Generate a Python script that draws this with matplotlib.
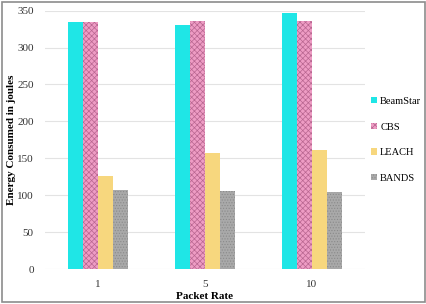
import numpy as np
import matplotlib
matplotlib.use("Agg")
import matplotlib.pyplot as plt
from matplotlib.patches import Rectangle

categories = ["1", "5", "10"]
series = ["BeamStar", "CBS", "LEACH", "BANDS"]
beamstar = [335, 330, 347]
cbs = [334, 336, 336]
leach = [126, 157, 161]
bands = [107, 106, 105]
yticks = [0, 50, 100, 150, 200, 250, 300, 350]

plt.rcParams['font.family'] = ['Liberation Serif', 'DejaVu Serif']
plt.rcParams['hatch.linewidth'] = 0.5

fig = plt.figure(figsize=(4.27, 3.04), dpi=100)
ax = fig.add_axes([0.105, 0.115, 0.75, 0.85])

colors = ["#1FE6E6", "#EE9CC4", "#F7D77E", "#A9A9A9"]
hatches = [None, "xxxxxx", None, "......"]
hcolors = ["#1FE6E6", "#B86690", "#F7D77E", "#8A8A8A"]
values = [beamstar, cbs, leach, bands]
x = np.arange(len(categories))
w = 0.14
for i, (name, vals) in enumerate(zip(series, values)):
    ax.bar(x + (i - 1.5) * w, vals, w, color=colors[i], label=name,
           hatch=hatches[i], edgecolor=hcolors[i], linewidth=0, zorder=3)

ax.set_xlim(-0.5, 2.5)
ax.set_ylim(0, 350)
ax.set_yticks(yticks)
ax.set_xticks(x)
ax.set_xticklabels(categories)
ax.yaxis.grid(True, color="#E3E3E3", linewidth=0.8, zorder=0)
ax.set_axisbelow(True)
for s in ax.spines.values():
    s.set_visible(False)
ax.tick_params(length=0, labelsize=8, colors="#333333", pad=8)
ax.set_ylabel("Energy Consumed in joules", fontsize=8, fontweight="bold", labelpad=1)
ax.set_xlabel("Packet Rate", fontsize=8, fontweight="bold", labelpad=2)

leg = ax.legend(loc="center left", bbox_to_anchor=(0.995, 0.5), frameon=False,
                fontsize=7.5, handlelength=0.6, handleheight=0.6,
                handletextpad=0.3, labelspacing=1.6, borderaxespad=0.3)

fig.patches.append(Rectangle((0.005, 0.008), 0.99, 0.985, transform=fig.transFigure,
                             fill=False, edgecolor="#8C8C8C", linewidth=1.2))

fig.savefig("out.png", dpi=100)
